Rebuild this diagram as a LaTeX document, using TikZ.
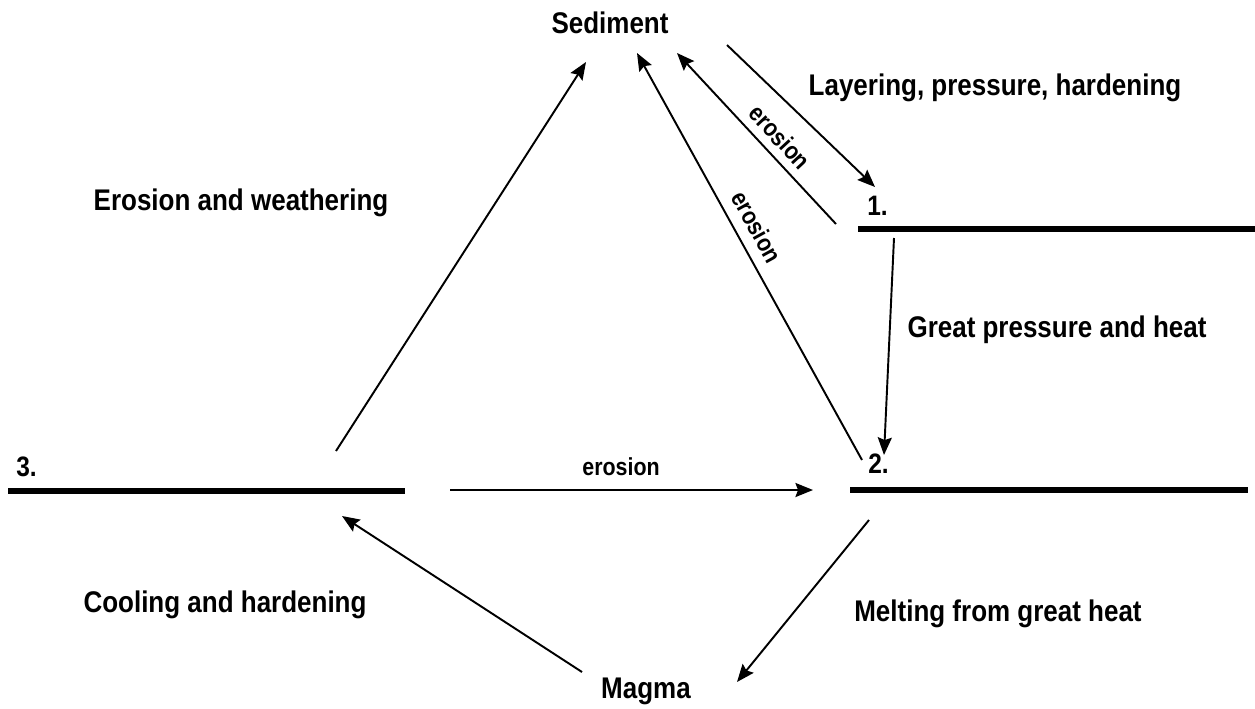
\documentclass[tikz,border=0pt]{standalone}
\usepackage{fontspec}
\setmainfont{Liberation Sans}[FakeStretch=0.87]
\usetikzlibrary{arrows.meta}

\tikzset{
    label text/.style={font=\bfseries\fontsize{17}{19}\selectfont, anchor=base, inner sep=0pt},
    number text/.style={font=\bfseries\fontsize{16}{18}\selectfont, anchor=base west, inner sep=0pt},
    small text/.style={font=\bfseries\fontsize{14}{16}\selectfont, inner sep=0pt},
    flow/.style={line width=1.1pt, -{Stealth[length=10pt,width=8pt,inset=1.5pt]}},
    rock line/.style={line width=2.9pt}
}

\begin{document}
\begin{tikzpicture}[x=0.02cm, y=-0.02cm]
            \useasboundingbox (0,0) rectangle (1255,708);
            % texts
            \node[label text] (sediment) at (610,33) {Sediment};
            \node[label text] (magma) at (646,698) {Magma};
            \node[label text] (layering) at (995,95) {Layering, pressure, hardening};
            \node[label text] (weathering) at (241,210) {Erosion and weathering};
            \node[label text] (pressure) at (1057,337) {Great pressure and heat};
            \node[label text] (cooling) at (225,612) {Cooling and hardening};
            \node[label text] (melting) at (998,621) {Melting from great heat};
            \node[number text] (one) at (867,215) {1.};
            \node[number text] (two) at (868,473) {2.};
            \node[number text] (three) at (16,476) {3.};
            % rock lines
            \coordinate (r1a) at (858,229);
            \coordinate (r1b) at (1255,229);
            \coordinate (r2a) at (850,490);
            \coordinate (r2b) at (1248,490);
            \coordinate (r3a) at (8,491);
            \coordinate (r3b) at (405,491);
            \draw[rock line] (r1a) -- (r1b);
            \draw[rock line] (r2a) -- (r2b);
            \draw[rock line] (r3a) -- (r3b);
            % arrow ends
            \coordinate (wa) at (336,451);
            \coordinate (wb) at (586,62);
            \coordinate (ea) at (862,460);
            \coordinate (eb) at (637,53);
            \coordinate (sa) at (836,224);
            \coordinate (sb) at (677,53);
            \coordinate (la) at (727,45);
            \coordinate (lb) at (875,187);
            \coordinate (pa) at (894,238);
            \coordinate (pb) at (884,455);
            \coordinate (ha) at (450,490);
            \coordinate (hb) at (813,490);
            \coordinate (ma) at (869,520);
            \coordinate (mb) at (737,682);
            \coordinate (ca) at (582,672);
            \coordinate (cb) at (342,516);
            \draw[flow] (wa) -- (wb);
            \draw[flow] (ea) -- (eb);
            \draw[flow] (sa) -- (sb);
            \draw[flow] (la) -- (lb);
            \draw[flow] (pa) -- (pb);
            \draw[flow] (ha) -- (hb);
            \draw[flow] (ma) -- (mb);
            \draw[flow] (ca) -- (cb);
            % erosion labels
            \node[small text, anchor=base] (erosionh) at (621,475) {erosion};
            \node[small text, rotate=-47.1] (erosions) at (780,137) {erosion};
            \node[small text, rotate=-61.1] (erosionl) at (757,227) {erosion};
        \end{tikzpicture}
\end{document}
